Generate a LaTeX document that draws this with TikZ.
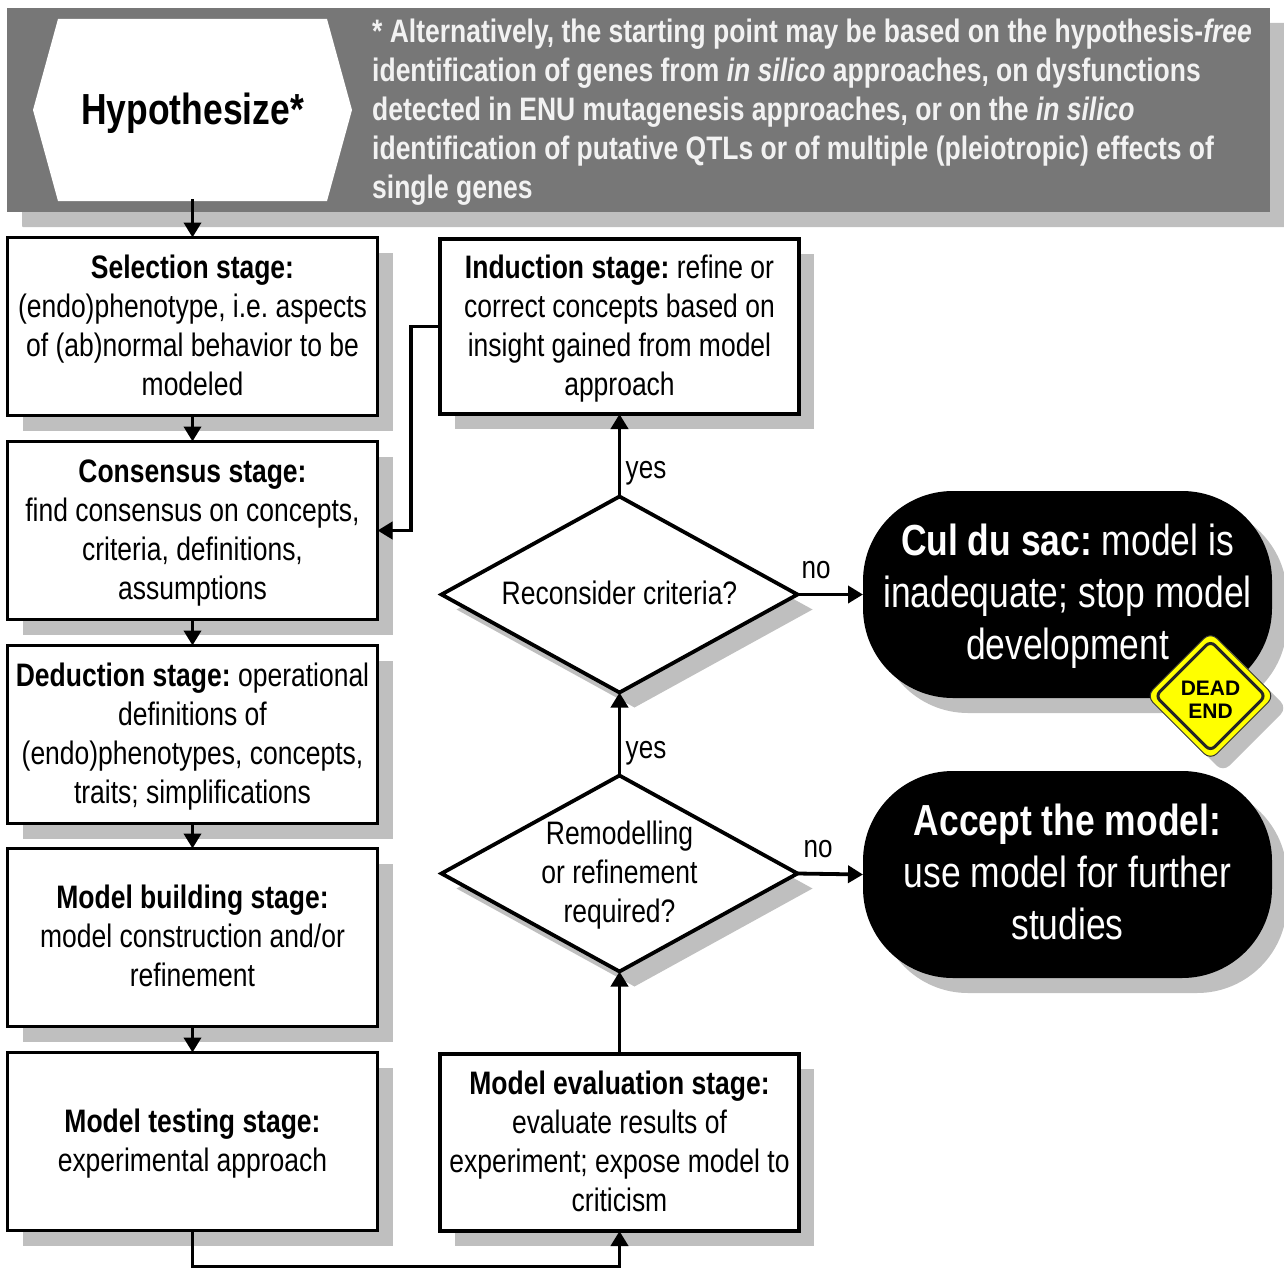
\documentclass[tikz,border=0pt]{standalone}
\usepackage{fontspec}
\setmainfont[FakeStretch=0.815]{Liberation Sans}
\newfontfamily\signfont{Liberation Sans}
\usetikzlibrary{arrows.meta,shapes.geometric,shadows,calc}
\definecolor{shadowgrey}{HTML}{BFBFBF}
\definecolor{bandgrey}{HTML}{777777}
\definecolor{signyellow}{HTML}{FFFF00}
\newcommand{\tl}{\rule{0pt}{30pt}}
\newcommand{\bl}{\rule[-10pt]{0pt}{10pt}}
\newcommand{\ptl}{\rule{0pt}{39pt}}
\newcommand{\pbl}{\rule[-14pt]{0pt}{14pt}}
\AtBeginDocument{\frenchspacing}
\tikzset{
  x=1pt,y=-1pt,
  softshadow/.style={copy shadow={shadow xshift=15pt,shadow yshift=-15pt,fill=shadowgrey,draw=none}},
  stagebox/.style={draw=black,line width=3.8pt,fill=white,rectangle,inner sep=0pt,outer sep=0pt,
    minimum width=370pt,minimum height=178pt,align=center,softshadow,
    font=\fontsize{32.5}{39}\selectfont},
  sidebox/.style={stagebox,minimum width=359pt},
  decision/.style={diamond,draw=black,line width=3.8pt,fill=white,inner sep=0pt,outer sep=0pt,
    minimum width=356pt,minimum height=196pt,aspect=1.8,softshadow},
  decisiontext/.style={inner sep=0pt,outer sep=0pt,align=center,font=\fontsize{32.5}{39}\selectfont},
  pill/.style={rectangle,rounded corners=90pt,fill=black,text=white,inner sep=0pt,outer sep=0pt,
    minimum width=409pt,minimum height=207pt,align=center,softshadow,
    font=\fontsize{43.5}{52}\selectfont},
  flow/.style={draw=black,line width=3.8pt,-{Triangle[width=17pt,length=15pt]}},
  answer/.style={inner sep=0pt,font=\fontsize{32}{38}\selectfont},
}
\begin{document}
\begin{tikzpicture}
\useasboundingbox (0,0) rectangle (1284,1268);
% header band
\fill[shadowgrey,rounded corners=1pt] (22,23) rectangle (1285,227);
\fill[bandgrey] (7,8) rectangle (1270,212);
\fill[white] (33,110) -- (58,19) -- (327,19) -- (352,110) -- (327,201) -- (58,201) -- cycle;
\node[inner sep=0pt,outer sep=0pt,minimum width=319pt,minimum height=182pt,font=\fontsize{43.5}{50}\selectfont\bfseries] (hyp) at (192.5,113) {Hypothesize*};
\node[anchor=west,inner sep=0pt,align=left,text=white!95!black,font=\fontsize{32.5}{39}\selectfont\bfseries] (note) at (372,112)
  {* Alternatively, the starting point may be based on the hypothesis-\textit{free}\\
   identification of genes from \textit{in silico} approaches, on dysfunctions\\
   detected in ENU mutagenesis approaches, or on the \textit{in silico}\\
   identification of putative QTLs or of multiple (pleiotropic) effects of\\
   single genes};
% left column
\node[stagebox] (sel) at (192.5,326.5) {\tl\textbf{Selection stage:}\\(endo)phenotype, i.e. aspects\\of (ab)normal behavior to be\\modeled\bl};
\node[stagebox] (con) at (192.5,530.5) {\tl\textbf{Consensus stage:}\\find consensus on concepts,\\criteria, definitions,\\assumptions\bl};
\node[stagebox] (ded) at (192.5,734.5) {\tl\textbf{Deduction stage:} operational\\definitions of\\(endo)phenotypes, concepts,\\traits; simplifications\bl};
\node[stagebox] (bld) at (192.5,937.5) {\tl\textbf{Model building stage:}\\model construction and/or\\refinement\bl};
\node[stagebox] (tst) at (192.5,1141.5) {\tl\textbf{Model testing stage:}\\experimental approach\bl};
% middle column
\node[sidebox,minimum height=175pt] (ind) at (619.5,326.5) {\tl\textbf{Induction stage:} refine or\\correct concepts based on\\insight gained from model\\approach\bl};
\node[sidebox,minimum height=177pt] (evl) at (619.5,1142.5) {\tl\textbf{Model evaluation stage:}\\evaluate results of\\experiment; expose model to\\criticism\bl};
\node[decision] (rec) at (619.5,594.5) {};
\node[decisiontext] (rectxt) at (rec.center) {\tl Reconsider criteria?\bl};
\node[decision] (rem) at (619.5,873.5) {};
\node[decisiontext] (remtxt) at (rem.center) {\tl Remodelling\\or refinement\\required?\bl};
% outcomes
\node[pill] (cul) at (1067.5,594.5) {\ptl\textbf{Cul du sac:} model is\\inadequate; stop model\\development\pbl};
\node[pill] (acc) at (1067.5,874.5) {\ptl\textbf{Accept the model:}\\use model for further\\studies\pbl};
% dead end sign
\fill[shadowgrey,rounded corners=9pt] (1223,644) -- (1287,708) -- (1223,772) -- (1159,708) -- cycle;
\fill[signyellow,draw=black!80,line width=1pt,rounded corners=9pt] (1210.5,632) -- (1274.5,696) -- (1210.5,760) -- (1146.5,696) -- cycle;
\draw[black!85,line width=3pt,rounded corners=6pt,fill=signyellow] (1210.5,641) -- (1265.5,696) -- (1210.5,751) -- (1155.5,696) -- cycle;
\node[inner sep=0pt,align=center,font=\signfont\fontsize{21}{23}\selectfont\bfseries] (sign) at (1210.5,700) {DEAD\\END};
% connectors
\draw[flow] ($(hyp.south)+(0,-5)$) -- (sel.north);
\draw[flow] (sel) -- (con);
\draw[flow] (con) -- (ded);
\draw[flow] (ded) -- (bld);
\draw[flow] (bld) -- (tst);
\draw[flow] (ind.west) -- ++(-29,0) |- (con.east);
\draw[flow] (tst.south) -- ++(0,36) -| (evl.south);
\draw[flow] (evl.north) -- (rem.south);
\draw[flow] (rem.north) -- (rec.south);
\draw[flow] (rec.north) -- (ind.south);
\draw[flow] (rec.east) -- (cul.west);
\draw[flow] (rem.east) -- (acc.west);
% answers
\node[answer] (y1) at (646,473) {yes};
\node[answer] (y2) at (646,753) {yes};
\node[answer] (n1) at (816,570) {no};
\node[answer] (n2) at (818,849) {no};
\end{tikzpicture}
\end{document}
